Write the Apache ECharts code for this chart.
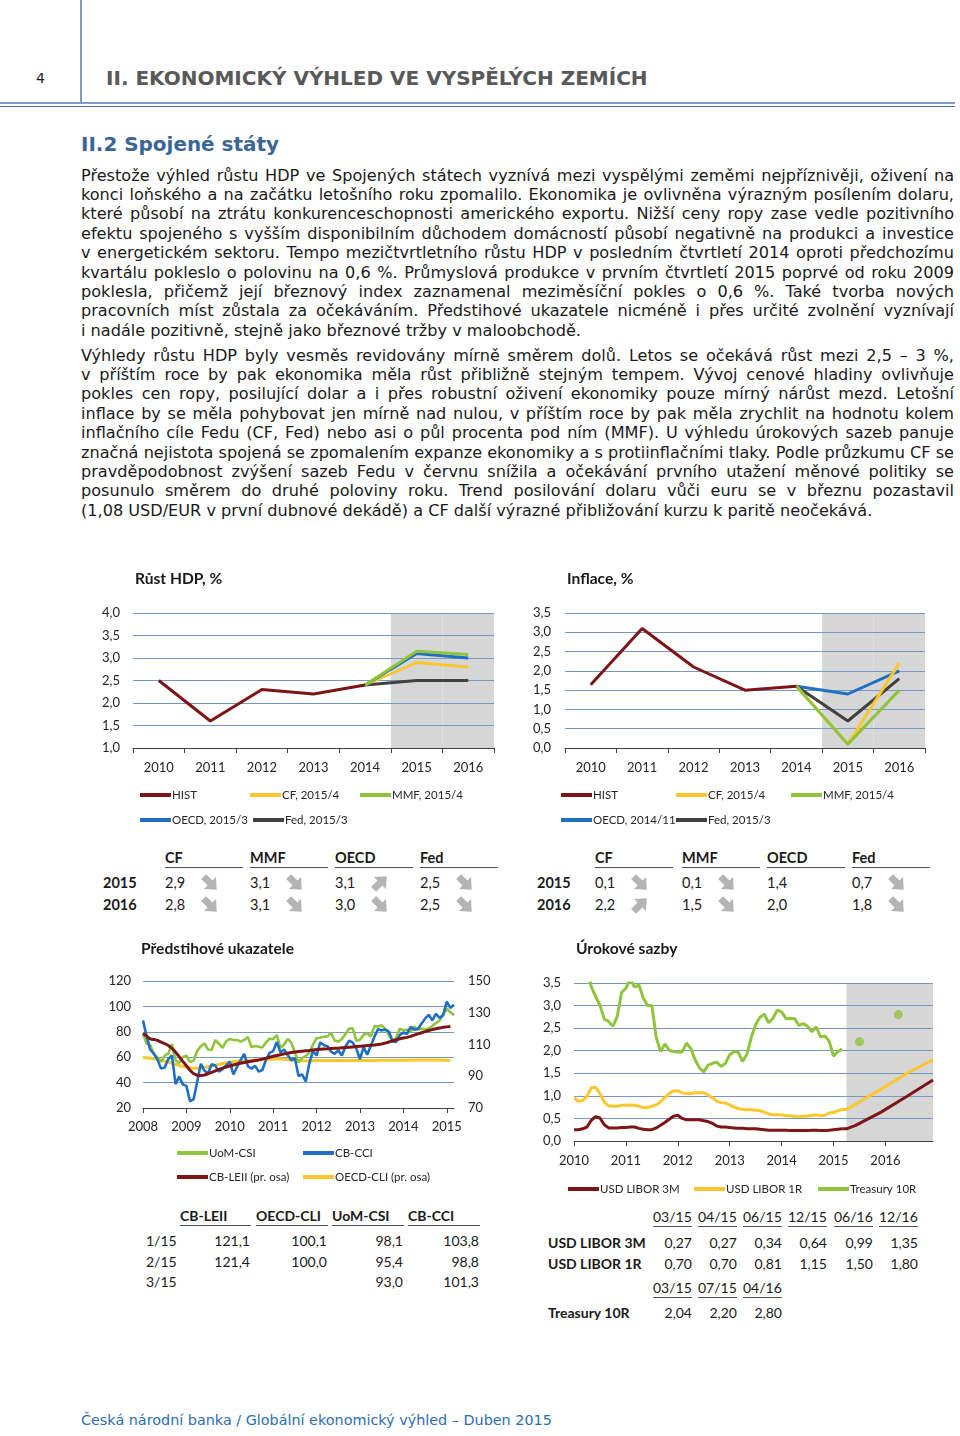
<!DOCTYPE html>
<html><head><meta charset="utf-8">
<script src="https://cdn.jsdelivr.net/npm/echarts@6/dist/echarts.min.js"></script>
<style>
html,body{margin:0;padding:0;background:#fff;}
body{position:relative;width:960px;height:1436px;overflow:hidden;font-family:"DejaVu Sans",Verdana,sans-serif;color:#1a1a1a;}
.ch{position:absolute;}
.jl{position:absolute;left:81px;white-space:nowrap;font-family:"DejaVu Sans",sans-serif;color:#1a1a1a;line-height:20px;height:20px;}
</style></head><body>

<div style="position:absolute;left:80px;top:0;width:1.5px;height:102px;background:#7c9bc5"></div>
<div style="position:absolute;left:0;top:101.5px;width:955px;height:2px;background:#7c9bc5"></div>
<div style="position:absolute;left:0;top:105.5px;width:955px;height:1.2px;background:#4f6f9f"></div>
<div style="position:absolute;left:36px;top:68px;line-height:20px;font-size:14px;color:#1a1a1a">4</div>
<div id="hdr" style="position:absolute;left:106px;top:66px;line-height:24px;font-size:18px;font-weight:bold;color:#595959;white-space:nowrap">II. EKONOMICKÝ VÝHLED VE VYSPĚLÝCH ZEMÍCH</div>
<div id="sec" style="position:absolute;left:81px;top:131px;line-height:26px;font-size:19px;font-weight:bold;color:#3a6598;white-space:nowrap">II.2 Spojené státy</div>

<div id="text"></div>

<div id="c1" class="ch" style="left:90px;top:560px;width:420px;height:280px"></div>
<div id="c2" class="ch" style="left:520px;top:560px;width:430px;height:280px"></div>
<div id="c3" class="ch" style="left:90px;top:935px;width:420px;height:265px"></div>
<div id="c4" class="ch" style="left:520px;top:935px;width:430px;height:270px"></div>

<div id="foot" style="position:absolute;left:81px;top:1410px;line-height:20px;font-size:14px;color:#2f6eaf;white-space:nowrap">Česká národní banka / Globální ekonomický výhled – Duben 2015</div>

<script>
// ---------------- DATA ----------------
const para1 = [
"Přestože výhled růstu HDP ve Spojených státech vyznívá mezi vyspělými zeměmi nejpříznivěji, oživení na",
"konci loňského a na začátku letošního roku zpomalilo. Ekonomika je ovlivněna výrazným posílením dolaru,",
"které působí na ztrátu konkurenceschopnosti amerického exportu. Nižší ceny ropy zase vedle pozitivního",
"efektu spojeného s vyšším disponibilním důchodem domácností působí negativně na produkci a investice",
"v energetickém sektoru. Tempo mezičtvrtletního růstu HDP v posledním čtvrtletí 2014 oproti předchozímu",
"kvartálu pokleslo o polovinu na 0,6 %. Průmyslová produkce v prvním čtvrtletí 2015 poprvé od roku 2009",
"poklesla, přičemž její březnový index zaznamenal meziměsíční pokles o 0,6 %. Také tvorba nových",
"pracovních míst zůstala za očekáváním. Předstihové ukazatele nicméně i přes určité zvolnění vyznívají",
"i nadále pozitivně, stejně jako březnové tržby v maloobchodě."
];
const para2 = [
"Výhledy růstu HDP byly vesměs revidovány mírně směrem dolů. Letos se očekává růst mezi 2,5 – 3 %,",
"v příštím roce by pak ekonomika měla růst přibližně stejným tempem. Vývoj cenové hladiny ovlivňuje",
"pokles cen ropy, posilující dolar a i přes robustní oživení ekonomiky pouze mírný nárůst mezd. Letošní",
"inflace by se měla pohybovat jen mírně nad nulou, v příštím roce by pak měla zrychlit na hodnotu kolem",
"inflačního cíle Fedu (CF, Fed) nebo asi o půl procenta pod ním (MMF). U výhledu úrokových sazeb panuje",
"značná nejistota spojená se zpomalením expanze ekonomiky a s protiinflačními tlaky. Podle průzkumu CF se",
"pravděpodobnost zvýšení sazeb Fedu v červnu snížila a očekávání prvního utažení měnové politiky se",
"posunulo směrem do druhé poloviny roku. Trend posilování dolaru vůči euru se v březnu pozastavil",
"(1,08 USD/EUR v první dubnové dekádě) a CF další výrazné přibližování kurzu k paritě neočekává."
];

const years = ['2010','2011','2012','2013','2014','2015','2016'];
const forecastYears = ['2015','2016'];

const gdpHist = [2.5, 1.6, 2.3, 2.2, 2.4, null, null];
const gdpCF   = [null, null, null, null, 2.4, 2.9, 2.8];
const gdpMMF  = [null, null, null, null, 2.4, 3.15, 3.08];
const gdpOECD = [null, null, null, null, 2.4, 3.1, 3.0];
const gdpFed  = [null, null, null, null, 2.4, 2.5, 2.5];

const infHist = [1.64, 3.1, 2.1, 1.5, 1.6, null, null];
const infCF   = [null, null, null, null, 1.6, 0.1, 2.2];
const infMMF  = [null, null, null, null, 1.6, 0.1, 1.5];
const infOECD = [null, null, null, null, 1.6, 1.4, 2.0];
const infFed  = [null, null, null, null, 1.6, 0.7, 1.8];

const tableCols = ['CF', 'MMF', 'OECD', 'Fed'];
const tableRows = ['2015', '2016'];
const gdpTab2015 = [2.9, 3.1, 3.1, 2.5];
const gdpTab2016 = [2.8, 3.1, 3.0, 2.5];
const gdpArr2015 = ['down', 'down', 'up', 'down'];
const gdpArr2016 = ['down', 'down', 'down', 'down'];
const infTab2015 = [0.1, 0.1, 1.4, 0.7];
const infTab2016 = [2.2, 1.5, 2.0, 1.8];
const infArr2015 = ['down', 'down', '', 'down'];
const infArr2016 = ['up', 'down', '', 'down'];

// Leading indicators, monthly Jan 2008 - Mar 2015
const uomCsi = [
78.4,70.8,69.5,62.6,59.8,56.4,61.2,63.0,70.3,57.6,55.3,60.1,
61.2,56.3,57.3,65.1,68.7,70.8,66.0,65.7,73.5,70.6,67.4,72.5,
74.4,73.6,73.6,72.2,73.6,76.0,67.8,68.9,68.2,67.7,71.6,74.5,
74.2,77.5,67.5,69.8,74.3,71.5,63.7,55.8,59.5,60.8,63.7,69.9,
75.0,75.3,76.2,76.4,79.3,73.2,72.3,74.3,78.3,82.6,82.7,72.9,
73.8,77.6,78.6,76.4,84.5,84.1,85.1,82.1,77.5,73.2,75.1,82.5,
81.2,81.6,80.0,84.1,81.9,82.5,81.8,82.5,84.6,86.9,88.8,93.6,
98.1,95.4,93.0];
const cbCci = [
89.0,76.4,65.9,62.8,58.1,51.0,51.9,58.5,61.4,38.8,44.7,38.6,
37.4,25.3,26.9,40.8,54.8,49.3,47.4,54.5,53.4,48.7,50.6,53.6,
56.5,46.4,52.3,57.7,62.7,52.9,51.0,53.2,48.6,49.9,57.8,63.4,
64.8,72.0,63.8,66.0,61.7,57.6,59.2,45.2,46.4,40.9,55.2,64.8,
61.5,71.6,69.5,68.7,64.4,62.7,65.4,61.3,68.4,73.1,71.5,66.7,
58.4,68.0,61.9,69.0,76.2,82.1,81.0,81.8,80.2,72.4,72.0,77.5,
79.4,78.3,83.9,81.7,82.2,86.4,90.3,93.4,89.0,94.1,91.0,93.1,
103.8,98.8,101.3];
const cbLeii = [
117.0,115.3,113.5,113.2,112.6,111.5,110.6,109.4,107.6,105.2,102.4,99.4,
96.6,93.8,91.6,90.6,90.4,90.8,91.6,92.5,93.4,94.3,95.1,95.8,
96.5,97.1,97.7,98.2,98.7,99.1,99.5,99.9,100.3,100.8,101.4,102.0,
102.6,103.1,103.6,104.1,104.5,104.9,105.3,105.6,105.8,106.0,106.2,106.5,
106.8,107.0,107.2,107.3,107.5,107.6,107.7,107.9,108.1,108.3,108.5,108.7,
108.9,109.1,109.3,109.5,109.7,110.0,110.3,110.9,111.6,112.3,113.0,113.6,
114.1,114.5,115.1,115.9,116.7,117.4,118.1,118.8,119.4,119.9,120.4,120.8,
121.1,121.4,null];
const oecdCli = [
101.8,101.6,101.3,101.0,100.6,100.1,99.5,98.9,98.2,97.5,96.8,96.2,
95.7,95.3,95.1,95.1,95.3,95.6,96.0,96.5,97.0,97.5,98.0,98.4,
98.8,99.1,99.4,99.6,99.8,100.0,100.1,100.2,100.3,100.4,100.5,100.6,
100.7,100.8,100.8,100.7,100.5,100.3,100.1,99.9,99.8,99.7,99.7,99.8,
99.9,100.0,100.0,100.0,99.9,99.9,99.9,99.9,99.9,99.9,100.0,100.0,
100.0,100.0,100.0,100.0,100.0,100.0,100.1,100.1,100.1,100.1,100.1,100.1,
100.1,100.1,100.2,100.2,100.2,100.2,100.2,100.2,100.2,100.2,100.2,100.1,
100.1,100.0,null];

const leadTabRows = ['1/15', '2/15', '3/15'];
const leadTabCols = ['CB-LEII', 'OECD-CLI', 'UoM-CSI', 'CB-CCI'];
const leadTabLeii = [121.1, 121.4, null];
const leadTabCli  = [100.1, 100.0, null];
const leadTabCsi  = [98.1, 95.4, 93.0];
const leadTabCci  = [103.8, 98.8, 101.3];

// Interest rates, monthly Jan 2010 - Mar 2015 (history)
const libor3mHist = [
0.25,0.25,0.27,0.31,0.46,0.54,0.51,0.36,0.29,0.29,0.29,0.30,
0.30,0.31,0.31,0.28,0.26,0.25,0.25,0.29,0.35,0.41,0.48,0.55,
0.57,0.50,0.47,0.47,0.47,0.47,0.45,0.43,0.39,0.33,0.31,0.31,
0.30,0.29,0.28,0.28,0.27,0.27,0.27,0.26,0.25,0.24,0.24,0.24,
0.24,0.24,0.23,0.23,0.23,0.23,0.23,0.24,0.24,0.23,0.23,0.24,
0.25,0.26,0.27];
const libor1yHist = [
0.96,0.88,0.90,0.99,1.18,1.19,1.05,0.86,0.78,0.77,0.77,0.79,
0.79,0.80,0.79,0.77,0.74,0.74,0.77,0.80,0.87,0.96,1.05,1.11,
1.11,1.07,1.05,1.05,1.07,1.07,1.07,1.02,0.96,0.88,0.85,0.84,
0.80,0.75,0.72,0.70,0.69,0.69,0.68,0.67,0.64,0.60,0.58,0.58,
0.58,0.56,0.56,0.55,0.54,0.55,0.55,0.57,0.58,0.56,0.57,0.62,
0.63,0.67,0.70];
const t10Hist = [
3.73,3.69,3.73,3.85,3.42,3.20,3.01,2.70,2.65,2.54,2.76,3.29,
3.39,3.58,3.41,3.46,3.17,3.00,3.00,2.30,1.98,2.15,2.01,1.98,
1.97,1.97,2.17,2.05,1.80,1.62,1.53,1.68,1.72,1.75,1.65,1.72,
1.91,1.98,1.96,1.76,1.93,2.30,2.58,2.74,2.81,2.62,2.72,2.90,
2.86,2.71,2.72,2.71,2.56,2.60,2.54,2.42,2.53,2.30,2.33,2.21,
1.88,1.98,2.04];
const liborFcDates = ['03/15', '04/15', '06/15', '12/15', '06/16', '12/16'];
const libor3mFc = [0.27, 0.27, 0.34, 0.64, 0.99, 1.35];
const libor1yFc = [0.70, 0.70, 0.81, 1.15, 1.50, 1.80];
const t10FcDates = ['03/15', '07/15', '04/16'];
const t10Fc = [2.04, 2.20, 2.80];
const rateForecastFrom = '04/15';

// ---------------- HELPERS ----------------
const FONT = 'Lato';
const C = {hist:'#7d1416', cf:'#fcc62d', mmf:'#8fc43c', oecd:'#1f6fc2', fed:'#404040', grid:'#7598c8', shade:'#d6d6d6', axis:'#404040', text:'#262626'};
const fmt = (v, d) => v.toFixed(d).replace('.', ',');
const toKey = s => '20' + s.slice(3) + '-' + s.slice(0, 2);

function fitWidth(id, target) {
  const el = document.getElementById(id);
  const fs = parseFloat(el.style.fontSize);
  const w = el.getBoundingClientRect().width;
  el.style.fontSize = (fs * target / w) + 'px';
}
fitWidth('hdr', 542);
fitWidth('sec', 198);
fitWidth('foot', 471);

function addText(s, x, y, o) {
  o = o || {};
  const d = document.createElement('div');
  d.textContent = s;
  const size = o.size || 14;
  d.style.cssText = 'position:absolute;top:' + (y - 10) + 'px;height:20px;line-height:20px;font-family:' + FONT +
    ';font-size:' + size + 'px;font-weight:' + (o.bold ? 700 : 400) + ';color:' + (o.color || '#1a1a1a') + ';white-space:nowrap;';
  if (o.align === 'right') d.style.right = (960 - x) + 'px'; else d.style.left = x + 'px';
  document.body.appendChild(d);
  return d;
}
function addRule(x, y, w) {
  const d = document.createElement('div');
  d.style.cssText = 'position:absolute;left:' + x + 'px;top:' + y + 'px;width:' + w + 'px;height:1px;background:#505050;';
  document.body.appendChild(d);
}
function addArrow(dir, cx, cy) {
  if (!dir) return;
  const ns = 'http://www.w3.org/2000/svg';
  const svg = document.createElementNS(ns, 'svg');
  svg.setAttribute('width', 22); svg.setAttribute('height', 20);
  svg.setAttribute('viewBox', '-11 -10 22 20');
  svg.style.cssText = 'position:absolute;left:' + (cx - 11) + 'px;top:' + (cy - 10) + 'px;';
  const p = document.createElementNS(ns, 'path');
  p.setAttribute('d', 'M-9,-3.5 L0,-3.5 L0,-8.5 L9.5,0 L0,8.5 L0,3.5 L-9,3.5 Z');
  p.setAttribute('fill', '#b4b4b4');
  p.setAttribute('transform', 'rotate(' + (dir === 'up' ? -45 : 45) + ')');
  svg.appendChild(p);
  document.body.appendChild(svg);
}

// ---------------- BODY TEXT ----------------
(function () {
  const host = document.getElementById('text');
  const mk = (s, y, just) => {
    const d = document.createElement('div');
    d.className = 'jl'; d.textContent = s; d.style.top = (y - 9.5) + 'px';
    d.dataset.j = just ? '1' : '0';
    host.appendChild(d); return d;
  };
  const lines = [];
  para1.forEach((s, i) => lines.push(mk(s, 175 + i * 19.4, i < para1.length - 1)));
  para2.forEach((s, i) => lines.push(mk(s, 355 + i * 19.4, i < para2.length - 1)));
  // calibrate font size so the last line of paragraph 2 keeps its natural width
  const last = lines[lines.length - 1];
  let fs = 14.5;
  lines.forEach(l => l.style.fontSize = fs + 'px');
  const w0 = last.getBoundingClientRect().width;
  fs = fs * 792 / w0;
  lines.forEach(l => l.style.fontSize = fs + 'px');
  lines.forEach(l => {
    if (l.dataset.j !== '1') return;
    const w = l.getBoundingClientRect().width;
    const n = (l.textContent.match(/ /g) || []).length;
    if (n) l.style.wordSpacing = ((873 - w) / n) + 'px';
  });
})();

// ---------------- TABLES ----------------
function forecastTable(cols, rowLabelX, v15, v16, a15, a16) {
  cols.forEach((c, i) => {
    addText(tableCols[i], c, 858, {bold: true, size: 14.5});
    addRule(c, 867, 78);
  });
  [[v15, a15, 883], [v16, a16, 905]].forEach((r, ri) => {
    addText(tableRows[ri], rowLabelX, r[2], {bold: true, size: 14.5});
    cols.forEach((c, i) => {
      addText(fmt(r[0][i], 1), c, r[2], {size: 14.5});
      addArrow(r[1][i], c + 45, r[2]);
    });
  });
}
forecastTable([165, 250, 335, 420], 103, gdpTab2015, gdpTab2016, gdpArr2015, gdpArr2016);
forecastTable([595, 682, 767, 852], 537, infTab2015, infTab2016, infArr2015, infArr2016);

(function () {
  const colL = [180, 256, 332, 408], colR = [250, 327, 403, 479];
  leadTabCols.forEach((c, i) => { addText(c, colL[i], 1216, {bold: true, size: 14}); addRule(colL[i], 1225, colR[i] - colL[i] + 1); });
  const cols = [leadTabLeii, leadTabCli, leadTabCsi, leadTabCci];
  const ys = [1241, 1262, 1282];
  leadTabRows.forEach((r, ri) => {
    addText(r, 146, ys[ri], {size: 14});
    cols.forEach((arr, ci) => { if (arr[ri] != null) addText(fmt(arr[ri], 1), colR[ci], ys[ri], {size: 14, align: 'right'}); });
  });
})();

(function () {
  const colL = [653, 698, 743, 788, 834, 879];
  liborFcDates.forEach((d, i) => { addText(d, colL[i], 1217, {size: 14}); addRule(colL[i], 1226, 39); });
  addText('USD LIBOR 3M', 548, 1243, {bold: true, size: 14});
  addText('USD LIBOR 1R', 548, 1264, {bold: true, size: 14});
  libor3mFc.forEach((v, i) => addText(fmt(v, 2), colL[i] + 39, 1243, {size: 14, align: 'right'}));
  libor1yFc.forEach((v, i) => addText(fmt(v, 2), colL[i] + 39, 1264, {size: 14, align: 'right'}));
  t10FcDates.forEach((d, i) => { addText(d, colL[i], 1288, {size: 14}); addRule(colL[i], 1297, 39); });
  addText('Treasury 10R', 548, 1313, {bold: true, size: 14});
  t10Fc.forEach((v, i) => addText(fmt(v, 2), colL[i] + 39, 1313, {size: 14, align: 'right'}));
})();

// ---------------- CHARTS ----------------
function leg(name, left, top) {
  return {data: [name], left: left, top: top, padding: 0, icon: 'rect', itemWidth: 31, itemHeight: 4,
    selectedMode: false, textStyle: {fontFamily: FONT, fontSize: 11.5, color: C.text, padding: [0, 0, 0, -4]}};
}
function line(name, data, color, extra) {
  return Object.assign({type: 'line', name: name, data: data, color: color, showSymbol: false, symbol: 'none',
    lineStyle: {width: 3, color: color}, itemStyle: {color: color}, connectNulls: false, animation: false}, extra || {});
}
function title(text, left, top) {
  return {text: text, left: left, top: top, padding: 0,
    textStyle: {fontFamily: FONT, fontWeight: 'bold', fontSize: 15.6, color: '#1a1a1a'}};
}
function valAxis(min, max, step, dec, margin, extra) {
  return Object.assign({type: 'value', min: min, max: max, interval: step, z: 1,
    axisLabel: {formatter: v => fmt(v, dec), fontFamily: FONT, fontSize: 13, color: C.text, margin: margin},
    splitLine: {show: true, lineStyle: {color: C.grid, width: 1}},
    axisLine: {show: false}, axisTick: {show: false}}, extra || {});
}
function catAxis(data, extra) {
  return Object.assign({type: 'category', data: data, z: 1,
    axisLine: {lineStyle: {color: C.axis, width: 1}},
    axisTick: {show: true, length: 5, lineStyle: {color: C.axis}},
    axisLabel: {fontFamily: FONT, fontSize: 13, color: C.text, margin: 13, interval: 0},
    splitLine: {show: false}}, extra || {});
}
const gridBase = {containLabel: false, outerBoundsMode: 'none'};

function annualChart(id, ttl, yMin, yMax, gridLeft, gridWidth, labMargin, series, legends) {
  const shade = years.map(y => forecastYears.indexOf(y) >= 0 ? yMax : null);
  const ch = echarts.init(document.getElementById(id), null, {renderer: 'canvas'});
  ch.setOption({
    animation: false,
    textStyle: {fontFamily: FONT},
    title: title(ttl, gridLeft + 2, 11),
    legend: legends,
    grid: Object.assign({left: gridLeft, top: 53, width: gridWidth, height: 135}, gridBase),
    xAxis: catAxis(years),
    yAxis: valAxis(yMin, yMax, 0.5, 1, labMargin),
    series: [{type: 'bar', data: shade, barCategoryGap: '0%', barGap: '0%', itemStyle: {color: C.shade},
      z: 0, silent: true, animation: false, clip: true}].concat(series)
  });
}

annualChart('c1', 'Růst HDP, %', 1, 4, 43, 361, 13, [
  line('Fed, 2015/3', gdpFed, C.fed),
  line('CF, 2015/4', gdpCF, C.cf),
  line('OECD, 2015/3', gdpOECD, C.oecd),
  line('MMF, 2015/4', gdpMMF, C.mmf),
  line('HIST', gdpHist, C.hist)
], [leg('HIST', 50, 229), leg('CF, 2015/4', 160, 229), leg('MMF, 2015/4', 270, 229),
    leg('OECD, 2015/3', 50, 254), leg('Fed, 2015/3', 163, 254)]);

annualChart('c2', 'Inflace, %', 0, 3.5, 45, 360, 14, [
  line('OECD, 2014/11', infOECD, C.oecd),
  line('Fed, 2015/3', infFed, C.fed),
  line('CF, 2015/4', infCF, C.cf),
  line('MMF, 2015/4', infMMF, C.mmf),
  line('HIST', infHist, C.hist)
], [leg('HIST', 41, 229), leg('CF, 2015/4', 156, 229), leg('MMF, 2015/4', 271, 229),
    leg('OECD, 2014/11', 41, 254), leg('Fed, 2015/3', 156, 254)]);

// Leading indicators
(function () {
  const months = [];
  for (let y = 2008; y <= 2015; y++) for (let m = 1; m <= 12; m++) {
    if (months.length >= uomCsi.length) break;
    months.push(y + '-' + String(m).padStart(2, '0'));
  }
  const isJan = (i, v) => v.slice(5) === '01';
  const ch = echarts.init(document.getElementById('c3'), null, {renderer: 'canvas'});
  ch.setOption({
    animation: false,
    textStyle: {fontFamily: FONT},
    title: title('Předstihové ukazatele', 51, 6),
    legend: [leg('UoM-CSI', 87, 212), leg('CB-CCI', 213, 212), leg('CB-LEII (pr. osa)', 87, 236), leg('OECD-CLI (pr. osa)', 213, 236)],
    grid: Object.assign({left: 53, top: 46, width: 311, height: 127}, gridBase),
    xAxis: catAxis(months, {boundaryGap: false,
      axisTick: {show: true, length: 5, interval: isJan, lineStyle: {color: C.axis}},
      axisLabel: {fontFamily: FONT, fontSize: 13, color: C.text, margin: 12, interval: isJan, formatter: v => v.slice(0, 4)}}),
    yAxis: [
      valAxis(20, 120, 20, 0, 12),
      valAxis(70, 150, 10, 0, 14, {position: 'right', splitLine: {show: false},
        axisLabel: {fontFamily: FONT, fontSize: 13, color: C.text, margin: 14,
          formatter: v => ((v - 70) % 20 === 0 ? String(v) : '')}})
    ],
    series: [
      line('OECD-CLI (pr. osa)', oecdCli, C.cf, {yAxisIndex: 1}),
      line('UoM-CSI', uomCsi, C.mmf, {lineStyle: {width: 2.6, color: C.mmf}}),
      line('CB-CCI', cbCci, C.oecd, {lineStyle: {width: 2.6, color: C.oecd}}),
      line('CB-LEII (pr. osa)', cbLeii, C.hist, {yAxisIndex: 1})
    ]
  });
})();

// Interest rates
(function () {
  const months = [];
  for (let y = 2010; y <= 2016; y++) for (let m = 1; m <= 12; m++) months.push(y + '-' + String(m).padStart(2, '0'));
  const isJan = (i, v) => v.slice(5) === '01';
  const yMax = 3.5;
  const fromIdx = months.indexOf(toKey(rateForecastFrom));
  const shade = months.map((m, i) => i >= fromIdx ? yMax : null);
  const pairs = (dates, vals) => dates.map((d, i) => [toKey(d), vals[i]]);
  const ch = echarts.init(document.getElementById('c4'), null, {renderer: 'canvas'});
  ch.setOption({
    animation: false,
    textStyle: {fontFamily: FONT},
    title: title('Úrokové sazby', 56, 6),
    legend: [leg('USD LIBOR 3M', 48, 248), leg('USD LIBOR 1R', 174, 248), leg('Treasury 10R', 298, 248)],
    grid: Object.assign({left: 54, top: 48, width: 359, height: 158}, gridBase),
    xAxis: catAxis(months, {boundaryGap: false,
      axisTick: {show: true, length: 5, interval: isJan, lineStyle: {color: C.axis}},
      axisLabel: {fontFamily: FONT, fontSize: 13, color: C.text, margin: 13, interval: isJan, formatter: v => v.slice(0, 4)}}),
    yAxis: valAxis(0, yMax, 0.5, 1, 13),
    series: [
      {type: 'line', data: shade, showSymbol: false, symbol: 'none', lineStyle: {width: 0, opacity: 0},
        areaStyle: {color: C.shade, opacity: 1}, z: 0, silent: true, animation: false},
      line('USD LIBOR 3M', libor3mHist, C.hist),
      line('USD LIBOR 1R', libor1yHist, C.cf),
      line('Treasury 10R', t10Hist, C.mmf),
      line('USD LIBOR 3M', pairs(liborFcDates, libor3mFc), C.hist),
      line('USD LIBOR 1R', pairs(liborFcDates, libor1yFc), C.cf),
      {type: 'scatter', name: 'Treasury 10R', data: pairs(t10FcDates.slice(1), t10Fc.slice(1)), symbolSize: 9,
        itemStyle: {color: C.mmf}, color: C.mmf, animation: false}
    ]
  });
})();
</script>
</body></html>
